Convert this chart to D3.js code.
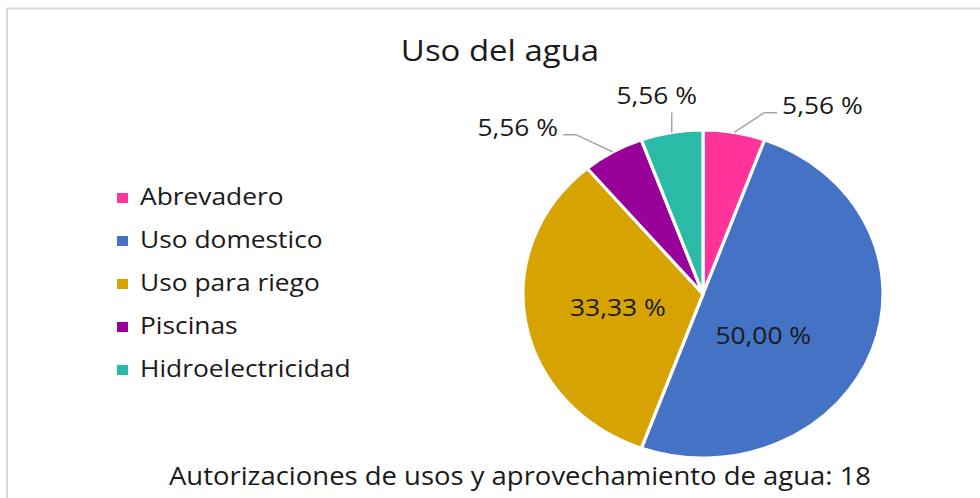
<!DOCTYPE html>
<html>
<head>
<meta charset="utf-8">
<script src="https://cdn.jsdelivr.net/npm/d3@7"></script>
<style>
  body { margin: 0; background: #fff; }
  text { font-family: "Open Sans", "Noto Sans", sans-serif; fill: #1a1a1a; }
</style>
</head>
<body>
<script>
// Chart data
var categories = ["Abrevadero", "Uso domestico", "Uso para riego", "Piscinas", "Hidroelectricidad"];
var counts = [1, 9, 6, 1, 1];
var labels = ["5,56 %", "50,00 %", "33,33 %", "5,56 %", "5,56 %"];
var colors = ["#FF3399", "#4472C4", "#D6A300", "#990099", "#2BBAA5"];
var labelPlace = ["right", "inside", "inside", "left", "top"];
var title = "Uso del agua";
var footer = "Autorizaciones de usos y aprovechamiento de agua: 18";

var svgWidth = 980;
var svgHeight = 498;
var sx = 1.098; // picture is stretched a bit horizontally
var cx = 703, cy = 294, radius = 164;

var svg = d3.select("body")
            .append("svg")
            .attr("width", svgWidth)
            .attr("height", svgHeight);

// chart frame
svg.append("path")
   .attr("d", "M7,500 V8.5 H982")
   .attr("fill", "none")
   .attr("stroke", "#d9d9d9")
   .attr("stroke-width", 2);

function stretchedText(x, y, str, size, anchor) {
  return svg.append("text")
            .attr("transform", `translate(${x},${y}) scale(${sx},1)`)
            .attr("text-anchor", anchor || "start")
            .style("font-size", size + "px")
            .text(str);
}

stretchedText(500, 61, title, 30, "middle");
stretchedText(520, 485, footer, 25, "middle");

// Pie
var pie = d3.pie().sort(null).value(d => d);
var arcs = pie(counts);
var arc = d3.arc().innerRadius(0).outerRadius(radius);

var pieGroup = svg.append("g")
                  .attr("transform", `translate(${cx},${cy}) scale(${sx},1)`);

pieGroup.selectAll("path")
        .data(arcs)
        .enter()
        .append("path")
        .attr("d", arc)
        .attr("fill", (d, i) => colors[i])
        .attr("stroke", "#fff")
        .attr("stroke-width", 3)
        .attr("stroke-linejoin", "round");

function polar(a, r) {
  return [cx + Math.sin(a) * r * sx, cy - Math.cos(a) * r];
}

// Data labels
arcs.forEach(function(d, i) {
  var mid = (d.startAngle + d.endAngle) / 2;
  var place = labelPlace[i];
  if (place == "inside") {
    // big slices: label sits a bit toward the centre, nudged down for the half slice
    var a = d.endAngle - d.startAngle > Math.PI * 0.9 ? mid + 0.3 : mid;
    var p = polar(a, radius * (d.endAngle - d.startAngle > Math.PI * 0.9 ? 0.42 : 0.48));
    stretchedText(p[0], p[1] + 8, labels[i], 24, "middle");
    return;
  }
  var edge = polar(mid, radius);
  var pts, tx, ty, anchor;
  if (place == "top") {
    pts = [edge, [edge[0], edge[1] - 20]];
    tx = edge[0] - 15; ty = edge[1] - 28; anchor = "middle";
  } else {
    var dir = place == "right" ? 1 : -1;
    var elbow = polar(mid, radius + 20);
    elbow[0] += dir * 26;
    var end = [elbow[0] + dir * 13, elbow[1]];
    pts = [edge, elbow, end];
    tx = end[0] + dir * 5; ty = end[1] + 1; anchor = dir > 0 ? "start" : "end";
  }
  svg.append("path")
     .attr("d", d3.line()(pts))
     .attr("fill", "none")
     .attr("stroke", "#a6a6a6")
     .attr("stroke-width", 1.5);
  stretchedText(tx, ty, labels[i], 24, anchor);
});

// Legend
var legend = svg.append("g");
categories.forEach(function(c, i) {
  var y = 205 + i * 43;
  legend.append("rect")
        .attr("x", 117)
        .attr("y", y - 12)
        .attr("width", 11)
        .attr("height", 10)
        .attr("fill", colors[i]);
  stretchedText(140, y, c, 24, "start");
});
</script>
</body>
</html>
